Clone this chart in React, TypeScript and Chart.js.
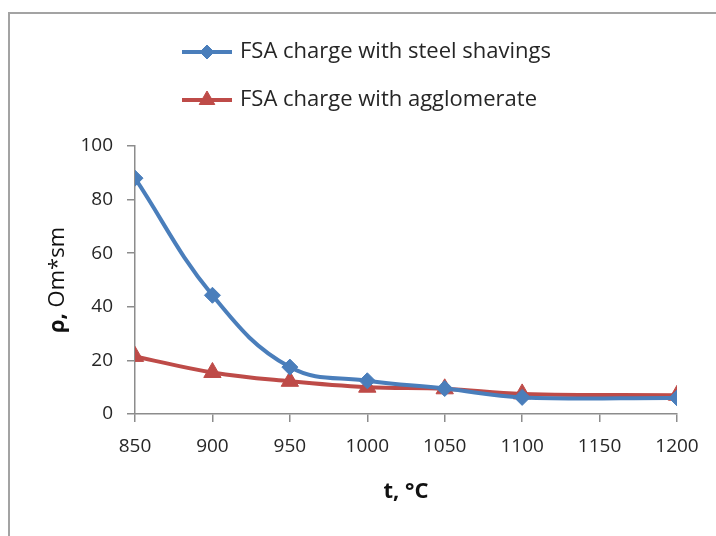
import React, { useEffect, useRef } from "react";
import { Chart, registerables } from "chart.js";
import { drawPoint } from "chart.js/helpers";

Chart.register(...registerables);

const temperatures = [850, 900, 950, 1000, 1050, 1100, 1200];
const steelShavings = [88.0, 44.3, 17.5, 12.4, 9.5, 6.2, 6.0];
const agglomerate = [21.5, 15.5, 12.2, 10.0, 9.4, 7.5, 7.0];
const seriesLabels = ["FSA charge with steel shavings", "FSA charge with agglomerate"];
const yTitleBold = "ρ,";
const yTitleRest = " Om*sm";
const xTitle = "t, °C";

const FONT = "'Open Sans', 'Noto Sans', sans-serif";
const AXIS_COLOR = "#8c8c8c";
const TEXT_COLOR = "#262626";

const overlayPlugin = {
  id: "overlay",
  afterDraw(chart: any) {
    const ctx = chart.ctx as CanvasRenderingContext2D;
    const area = chart.chartArea;
    ctx.save();
    // legend
    chart.data.datasets.forEach((ds: any, i: number) => {
      const y = 52 + i * 48;
      ctx.strokeStyle = ds.borderColor;
      ctx.lineWidth = 4;
      ctx.lineCap = "butt";
      ctx.beginPath();
      ctx.moveTo(182, y);
      ctx.lineTo(232, y);
      ctx.stroke();
      ctx.fillStyle = ds.backgroundColor;
      ctx.strokeStyle = ds.borderColor;
      ctx.lineWidth = 1;
      drawPoint(
        ctx,
        { pointStyle: ds.pointStyle, radius: ds.pointRadius - 1, rotation: 0, borderWidth: 1 } as any,
        207,
        y
      );
      ctx.fillStyle = TEXT_COLOR;
      ctx.font = `22px ${FONT}`;
      ctx.textAlign = "left";
      ctx.textBaseline = "middle";
      ctx.fillText(ds.label, 240, y);
    });
    // x title
    ctx.fillStyle = "#111";
    ctx.font = `bold 22px ${FONT}`;
    ctx.textAlign = "center";
    ctx.textBaseline = "middle";
    ctx.fillText(xTitle, (area.left + area.right) / 2, 492);
    // y title
    ctx.translate(58, (area.top + area.bottom) / 2);
    ctx.rotate(-Math.PI / 2);
    ctx.font = `bold 22px ${FONT}`;
    const w1 = ctx.measureText(yTitleBold).width;
    ctx.font = `22px ${FONT}`;
    const w2 = ctx.measureText(yTitleRest).width;
    const start = -(w1 + w2) / 2;
    ctx.textAlign = "left";
    ctx.font = `bold 22px ${FONT}`;
    ctx.fillText(yTitleBold, start, 0);
    ctx.font = `22px ${FONT}`;
    ctx.fillText(yTitleRest, start + w1, 0);
    ctx.restore();
  },
};

export default function App() {
  const canvasRef = useRef<HTMLCanvasElement | null>(null);

  useEffect(() => {
    if (!canvasRef.current) return;
    const chart = new Chart(canvasRef.current, {
      type: "line",
      data: {
        datasets: [
          {
            label: seriesLabels[0],
            data: temperatures.map((t, i) => ({ x: t, y: steelShavings[i] })),
            borderColor: "#4A7EBB",
            backgroundColor: "#4A7EBB",
            borderWidth: 4,
            pointStyle: "rectRot",
            pointRadius: 8,
            pointBorderWidth: 1,
            tension: 0.4,
          },
          {
            label: seriesLabels[1],
            data: temperatures.map((t, i) => ({ x: t, y: agglomerate[i] })),
            borderColor: "#BE4B48",
            backgroundColor: "#BE4B48",
            borderWidth: 4,
            pointStyle: "triangle",
            pointRadius: 10,
            pointBorderWidth: 1,
            tension: 0.4,
          },
        ],
      },
      options: {
        animation: false,
        responsive: false,
        layout: { padding: { top: 146, right: 39, left: 0, bottom: 0 } },
        plugins: { legend: { display: false }, tooltip: { enabled: false } },
        scales: {
          x: {
            type: "linear",
            min: 850,
            max: 1200,
            ticks: {
              stepSize: 50,
              autoSkip: false,
              maxRotation: 0,
              color: TEXT_COLOR,
              font: { family: FONT, size: 19 },
              padding: 13,
              callback: (v: any) => String(v),
            },
            grid: { drawOnChartArea: false, tickLength: 8, color: AXIS_COLOR, lineWidth: 1.5 },
            border: { color: AXIS_COLOR, width: 1.5 },
            afterFit: (s: any) => {
              s.height = 122;
            },
          },
          y: {
            min: 0,
            max: 100,
            ticks: {
              stepSize: 20,
              color: TEXT_COLOR,
              font: { family: FONT, size: 19 },
              padding: 14,
              callback: (v: any) => String(v),
            },
            grid: { drawOnChartArea: false, tickLength: 8, color: AXIS_COLOR, lineWidth: 1.5 },
            border: { color: AXIS_COLOR, width: 1.5 },
            afterFit: (s: any) => {
              s.width = 135;
            },
          },
        },
      },
      plugins: [overlayPlugin],
    });
    return () => chart.destroy();
  }, []);

  return (
    <div>
      <div
        style={{
          position: "fixed",
          left: 8,
          top: 12,
          width: 900,
          height: 900,
          border: "2px solid #a3a3a3",
          background: "#fff",
        }}
      />
      <div style={{ position: "fixed", left: 0, top: 0, width: 716, height: 536 }}>
        <canvas ref={canvasRef} width={716} height={536} style={{ display: "block" }} />
      </div>
    </div>
  );
}
